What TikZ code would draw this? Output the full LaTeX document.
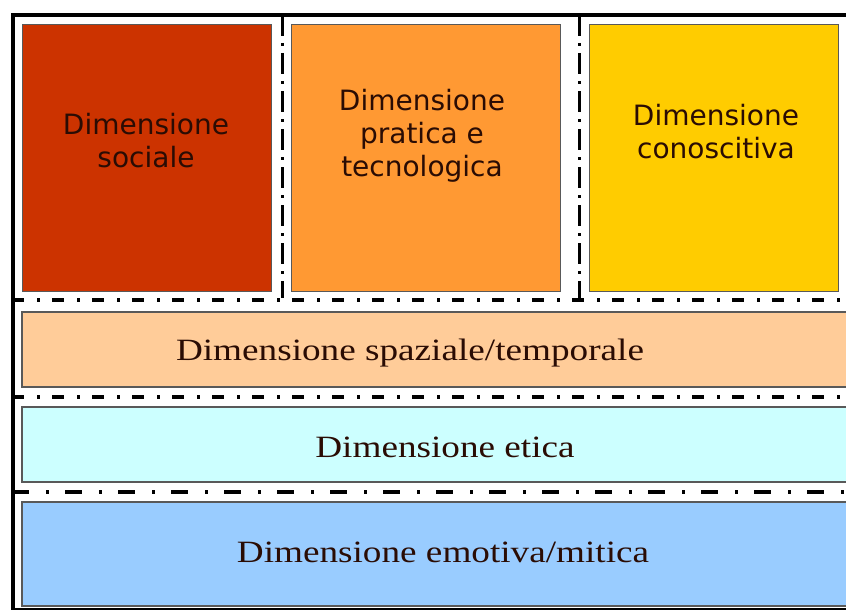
\documentclass[tikz,border=0pt]{standalone}
\usepackage{fontspec}
\usepackage{tikz}
\newfontfamily\boxfont{DejaVu Sans}
\newfontfamily\bandfont[FakeStretch=1.2]{Liberation Serif}
\definecolor{csociale}{HTML}{CC3300}
\definecolor{cpratica}{HTML}{FF9933}
\definecolor{cconosc}{HTML}{FFCC00}
\definecolor{cspazio}{HTML}{FFCC99}
\definecolor{cetica}{HTML}{CCFFFF}
\definecolor{cmito}{HTML}{99CCFF}
\definecolor{ctesto}{HTML}{2A0C04}

\begin{document}
\begin{tikzpicture}[x=1pt,y=-1pt]
\tikzstyle{every node}=[inner sep=0pt,outer sep=0pt];
\tikzstyle{box}=[draw=black!65,line width=1pt,rectangle,minimum height=266pt];
\tikzstyle{band}=[draw=black!65,line width=1.2pt,rectangle,minimum width=860pt];
\tikzstyle{boxtext}=[anchor=north,align=center,text=ctesto,font=\boxfont\fontsize{28}{33}\selectfont];
\tikzstyle{bandtext}=[anchor=base,text=ctesto,font=\bandfont\fontsize{31}{36}\selectfont];
\tikzstyle{sep}=[line width=4pt,dash pattern=on 12pt off 13pt on 3pt off 12pt];
\clip (0,0) rectangle (846,610);
\fill[white] (0,0) rectangle (846,610);
\node [box,fill=csociale,minimum width=249pt](d1) at (146.5,158) {};
\node [box,fill=cpratica,minimum width=269pt](d2) at (425.5,158) {};
\node [box,fill=cconosc,minimum width=249pt](d3) at (713.5,158) {};
\node [band,fill=cspazio,minimum height=75pt](d4) at (452,349.5) {};
\node [band,fill=cetica,minimum height=75pt](d5) at (452,444.5) {};
\node [band,fill=cmito,minimum height=104pt](d6) at (452,554) {};
\node [boxtext](t1) at (146,113) {Dimensione\\sociale};
\node [boxtext](t2) at (422,89) {Dimensione\\pratica e\\tecnologica};
\node [boxtext](t3) at (716,104) {Dimensione\\conoscitiva};
\node [bandtext](t4) at (410,360) {Dimensione spaziale/temporale};
\node [bandtext](t5) at (445,457) {Dimensione etica};
\node [bandtext](t6) at (443,562) {Dimensione emotiva/mitica};
\draw [line width=3pt,dash pattern=on 21pt off 7pt on 3pt off 7pt]
      (282,15) -- (282,298)
      (579,15) -- (579,298);
\draw [sep] (12,300) -- (846,300)
      (12,397) -- (846,397);
\draw [sep,dash pattern=on 17pt off 17pt on 3pt off 16pt] (12,492) -- (846,492);
\draw [line width=4pt] (880,15) -- (13,15) -- (13,610) -- (880,610);
\end{tikzpicture}
\end{document}
